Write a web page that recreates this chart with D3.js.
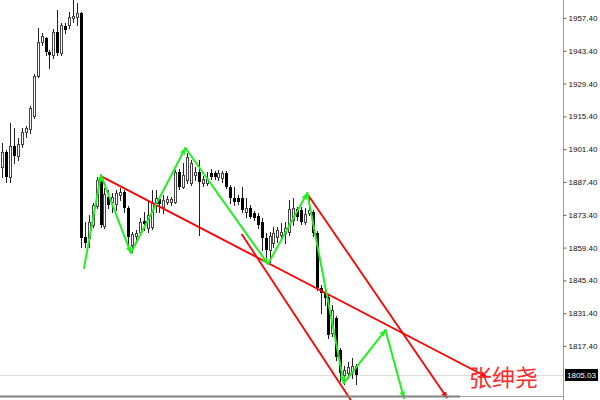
<!DOCTYPE html>
<html><head><meta charset="utf-8">
<script src="https://cdn.jsdelivr.net/npm/d3@7"></script>
<style>body{margin:0;background:#fff}svg{display:block}</style>
</head><body>
<script>
// ---- Data ----
const open = [1893.8,1900.2,1889.5,1902.8,1898.5,1903.6,1908.7,1910.0,1915.6,1932.6,
1947.2,1948.9,1942.9,1941.6,1951.4,1942.5,1954.0,1954.4,1957.4,1957.8,
1959.5,1863.9,1863.5,1869.1,1877.2,1888.3,1868.6,1881.0,1878.9,1878.0,
1881.9,1883.1,1876.3,1860.5,1864.4,1866.1,1870.8,1867.8,1868.2,1878.4,
1880.1,1876.7,1878.9,1878.9,1878.9,1891.7,1885.3,1888.3,1887.0,1890.4,
1891.7,1887.0,1887.0,1891.2,1891.2,1889.5,1889.1,1891.2,1885.3,1880.6,
1880.6,1880.6,1874.6,1876.3,1874.2,1872.9,1870.3,1863.5,1858.4,1861.4,
1863.9,1864.8,1865.6,1866.1,1871.2,1875.9,1875.5,1870.3,1874.2,1874.6,
1865.6,1842.2,1840.5,1838.3,1822.9,1829.4,1815.7,1805.0,1805.9,1806.3,
1808.9];
const high = [1904.0,1901.1,1912.6,1910.5,1906.2,1910.5,1911.3,1919.8,1933.5,1953.1,
1951.0,1949.3,1943.7,1952.7,1960.8,1955.3,1955.3,1960.0,1965.1,1963.8,
1960.0,1870.3,1873.3,1878.4,1889.5,1890.4,1884.8,1884.0,1882.7,1884.0,
1884.8,1884.0,1877.2,1866.1,1866.9,1872.0,1874.6,1879.7,1884.0,1884.0,
1881.4,1881.9,1881.4,1881.0,1892.5,1892.9,1895.5,1899.8,1896.8,1893.8,
1896.8,1890.0,1891.7,1892.9,1892.1,1892.5,1892.1,1892.1,1886.1,1885.3,
1881.9,1885.3,1880.6,1877.6,1875.0,1874.2,1872.0,1865.6,1866.1,1868.2,
1868.2,1869.9,1870.3,1879.7,1880.6,1876.7,1876.7,1876.3,1881.4,1875.5,
1866.5,1843.4,1841.3,1839.2,1834.9,1830.2,1816.6,1808.9,1810.6,1812.3,
1809.7];
const low = [1889.5,1887.4,1887.4,1895.5,1896.8,1902.3,1906.6,1908.3,1914.7,1932.2,
1945.9,1941.6,1936.1,1940.3,1941.6,1941.6,1951.0,1953.1,1955.7,1954.4,
1859.7,1859.7,1859.7,1868.2,1876.3,1868.2,1867.8,1876.3,1874.6,1875.5,
1879.7,1874.6,1859.7,1857.5,1861.8,1864.8,1866.9,1866.1,1867.3,1874.6,
1874.6,1874.2,1878.0,1877.6,1878.4,1884.4,1884.8,1887.0,1886.1,1888.3,
1864.8,1885.7,1886.1,1888.7,1888.7,1888.3,1887.4,1884.8,1878.4,1877.6,
1878.0,1874.6,1872.5,1872.0,1871.2,1867.8,1858.4,1855.4,1853.3,1859.7,
1861.8,1863.5,1861.4,1864.8,1869.1,1871.2,1869.5,1869.5,1873.3,1864.4,
1841.3,1831.5,1834.9,1820.8,1821.7,1811.4,1802.5,1801.2,1803.8,1803.8,
1801.2];
const close = [1900.2,1889.5,1902.8,1898.5,1903.6,1908.7,1910.5,1919.0,1932.6,1947.2,
1949.7,1942.9,1941.6,1951.4,1942.5,1954.4,1952.3,1957.8,1958.3,1959.5,
1863.5,1861.4,1870.3,1877.6,1888.3,1869.1,1882.3,1877.6,1881.0,1882.7,
1883.1,1876.3,1863.9,1865.2,1865.6,1870.3,1869.5,1873.3,1878.4,1880.6,
1878.0,1879.7,1880.1,1880.1,1891.7,1885.3,1890.4,1898.1,1895.5,1891.7,
1887.4,1888.7,1888.7,1889.5,1889.5,1891.2,1891.2,1885.3,1880.6,1878.9,
1878.9,1875.5,1876.3,1872.5,1872.0,1869.1,1863.5,1858.4,1864.4,1865.6,
1866.9,1866.1,1867.8,1875.9,1876.3,1872.5,1870.3,1873.7,1875.5,1865.6,
1842.2,1840.0,1837.9,1822.1,1832.8,1812.7,1805.9,1807.2,1808.4,1808.9,
1805.03];
const lastPrice = 1805.03;
// zigzag vertices (bar index, price)
const zigIndex = [20.8, 25.1, 32.7, 46.6, 67.6, 77.6, 86.9, 97.5, 102.2];
const zigPrice = [1850.7, 1890.4, 1857.1, 1901.9, 1852.4, 1882.7, 1801.6, 1824.2, 1795.2];
// red trend lines (start index/price -> end index/price)
const trendStartIndex = [25.3, 77.8, 60.9];
const trendStartPrice = [1889.7, 1881.9, 1865.2];
const trendEndIndex   = [123.3, 113.2, 89.0];
const trendEndPrice   = [1804.2, 1795.2, 1793.5];
const trendArrow      = [true, true, false];
const tickLabels = ["1957.40","1943.40","1929.40","1915.40","1901.40","1887.40","1873.40","1859.40","1845.40","1831.40","1817.40"];
const watermark = "张绅尧";

// ---- Chart ----
const W = 600, H = 400, axisX = 563.5;
const x = d3.scaleLinear().domain([0, 90]).range([2.3, 356]);
const y = d3.scaleLinear().domain([1957.40, 1817.40]).range([18, 346]);

const svg = d3.select("body").append("svg").attr("width", W).attr("height", H);
const defs = svg.append("defs");
defs.append("clipPath").attr("id", "plot").append("rect")
  .attr("x", 0).attr("y", 0).attr("width", axisX).attr("height", H);
function marker(id, color) {
  defs.append("marker").attr("id", id).attr("viewBox", "0 0 10 10")
    .attr("refX", 9).attr("refY", 5).attr("markerUnits", "userSpaceOnUse")
    .attr("markerWidth", 7).attr("markerHeight", 7).attr("orient", "auto")
    .append("path").attr("d", "M0,1 L10,5 L0,9 z").attr("fill", color);
}
marker("gArrow", "#22ee22");
marker("rArrow", "#ff0000");

const g = svg.append("g").attr("clip-path", "url(#plot)");

// last price line
const ly = Math.round(y(lastPrice)) + 0.5;
g.append("line").attr("x1", 0).attr("x2", axisX).attr("y1", ly).attr("y2", ly)
  .attr("stroke", "#dcdcdc").attr("stroke-width", 1);

// candles
const idx = d3.range(open.length);
const px = i => Math.round(x(i)) + 0.5;
const py = v => Math.round(y(v));
g.selectAll(".wick").data(idx).join("line")
  .attr("x1", px).attr("x2", px)
  .attr("y1", i => py(high[i])).attr("y2", i => py(low[i]) + 1)
  .attr("stroke", "#222").attr("stroke-width", 1);
g.selectAll(".bull").data(idx.filter(i => close[i] >= open[i])).join("rect")
  .attr("x", i => px(i) - 1).attr("width", 2)
  .attr("y", i => py(close[i]) + 0.5)
  .attr("height", i => Math.max(1, py(open[i]) - py(close[i])))
  .attr("fill", "#fff").attr("stroke", "#444").attr("stroke-width", 1);
g.selectAll(".bear").data(idx.filter(i => close[i] < open[i])).join("rect")
  .attr("x", i => px(i) - 1.5).attr("width", 3)
  .attr("y", i => py(open[i]))
  .attr("height", i => Math.max(1, py(close[i]) - py(open[i])))
  .attr("fill", "#000");

// red trend lines
g.selectAll(".trend").data(d3.range(trendStartIndex.length)).join("line")
  .attr("x1", i => x(trendStartIndex[i])).attr("y1", i => y(trendStartPrice[i]))
  .attr("x2", i => x(trendEndIndex[i])).attr("y2", i => y(trendEndPrice[i]))
  .attr("stroke", "#ff0000").attr("stroke-width", 1.8)
  .attr("marker-end", i => trendArrow[i] ? "url(#rArrow)" : null);

// green zigzag
g.selectAll(".zig").data(d3.range(zigIndex.length - 1)).join("line")
  .attr("x1", i => x(zigIndex[i])).attr("y1", i => y(zigPrice[i]))
  .attr("x2", i => x(zigIndex[i + 1])).attr("y2", i => y(zigPrice[i + 1]))
  .attr("stroke", "#22ee22").attr("stroke-width", 2)
  .attr("stroke-linecap", "round")
  .attr("marker-end", "url(#gArrow)");

// bottom strip
svg.append("line").attr("x1", 0).attr("x2", 460).attr("y1", 396.5).attr("y2", 396.5)
  .attr("stroke", "#808080").attr("stroke-width", 2);
svg.append("line").attr("x1", 460).attr("x2", axisX).attr("y1", 396.5).attr("y2", 396.5)
  .attr("stroke", "#a0a0a0").attr("stroke-width", 1);

// watermark text
svg.append("text").attr("x", 469).attr("y", 386)
  .attr("font-family", "'Noto Sans CJK SC', sans-serif").attr("font-size", 23)
  .attr("fill", "#ff2a2a").text(watermark);

// price axis
const axis = d3.axisRight(y).tickValues(tickLabels.map(Number))
  .tickFormat((d, i) => tickLabels[i]).tickSize(3).tickPadding(2);
const ag = svg.append("g").attr("transform", `translate(${axisX},0)`).call(axis);
ag.select(".domain").attr("stroke", "#9a9a9a").attr("d", `M0,0V${H}`);
ag.selectAll(".tick line").attr("stroke", "#666");
ag.selectAll(".tick text").attr("font-family", "'Liberation Sans', Arial, sans-serif")
  .attr("font-size", 8).attr("fill", "#111");

// last price tag
svg.append("rect").attr("x", 565).attr("y", y(lastPrice) - 6).attr("width", 33).attr("height", 12)
  .attr("fill", "#000");
svg.append("text").attr("x", 567).attr("y", y(lastPrice) + 3)
  .attr("font-family", "'Liberation Sans', Arial, sans-serif").attr("font-size", 8)
  .attr("fill", "#fff").text(lastPrice.toFixed(2));
</script>
</body></html>
